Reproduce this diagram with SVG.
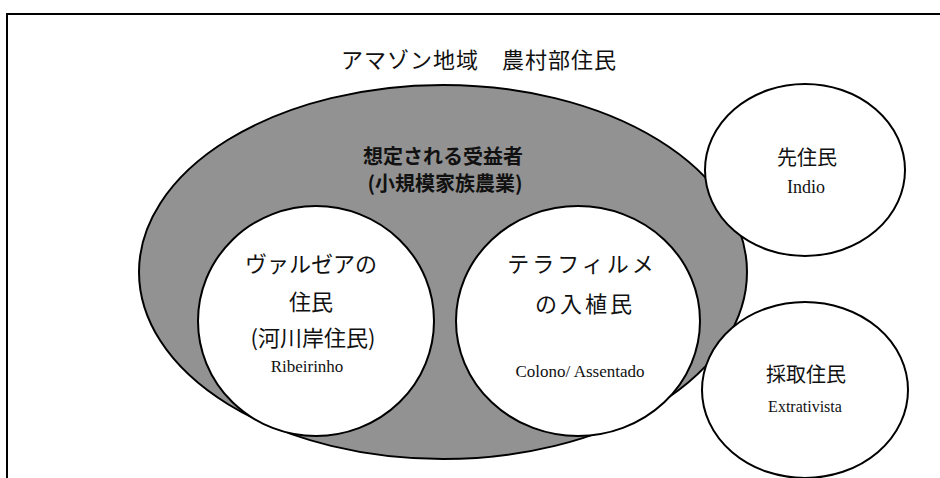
<svg xmlns="http://www.w3.org/2000/svg" width="940" height="478" viewBox="0 0 940 478">
<style>
.jp{font-family:"Noto Sans CJK JP","Noto Sans",sans-serif;fill:#111;text-anchor:middle}
.lat{font-family:"Liberation Serif","Times New Roman",serif;fill:#111;text-anchor:middle}
.node{fill:#fff;stroke:#000;stroke-width:2}
</style>
<rect width="940" height="478" fill="#fff"/>
<g id="frame"><path d="M7,478 V14 H940" fill="none" stroke="#000" stroke-width="2"/></g>
<g id="title"><text class="jp" x="479" y="68" font-size="22" letter-spacing="1">アマゾン地域　農村部住民</text></g>
<g id="beneficiaries">
<ellipse cx="443" cy="272" rx="304" ry="187" fill="#929292" stroke="#000" stroke-width="2"/>
<text class="jp" x="443" y="164" font-size="20" font-weight="bold">想定される受益者</text>
<text class="jp" x="445" y="191" font-size="20" font-weight="bold">(小規模家族農業)</text>
</g>
<g id="varzea">
<ellipse class="node" cx="316" cy="321" rx="118" ry="115"/>
<text class="jp" x="311" y="272" font-size="22">ヴァルゼアの</text>
<text class="jp" x="311" y="310" font-size="22">住民</text>
<text class="jp" x="313" y="346" font-size="22">(河川岸住民)</text>
<text class="lat" x="307" y="372" font-size="17">Ribeirinho</text>
</g>
<g id="terrafirme">
<ellipse class="node" cx="578" cy="321" rx="122" ry="115"/>
<text class="jp" x="582" y="272" font-size="22" letter-spacing="3">テラフィルメ</text>
<text class="jp" x="585" y="312" font-size="22" letter-spacing="3">の入植民</text>
<text class="lat" x="580" y="377" font-size="17">Colono/ Assentado</text>
</g>
<g id="indio">
<ellipse class="node" cx="805" cy="170" rx="100" ry="86"/>
<text class="jp" x="807" y="165" font-size="20">先住民</text>
<text class="lat" x="806" y="193" font-size="18">Indio</text>
</g>
<g id="extrativista">
<ellipse class="node" cx="805" cy="390" rx="103" ry="88"/>
<text class="jp" x="806" y="382" font-size="20">採取住民</text>
<text class="lat" x="805" y="412" font-size="16">Extrativista</text>
</g>
<g id="connectors"/>
</svg>
